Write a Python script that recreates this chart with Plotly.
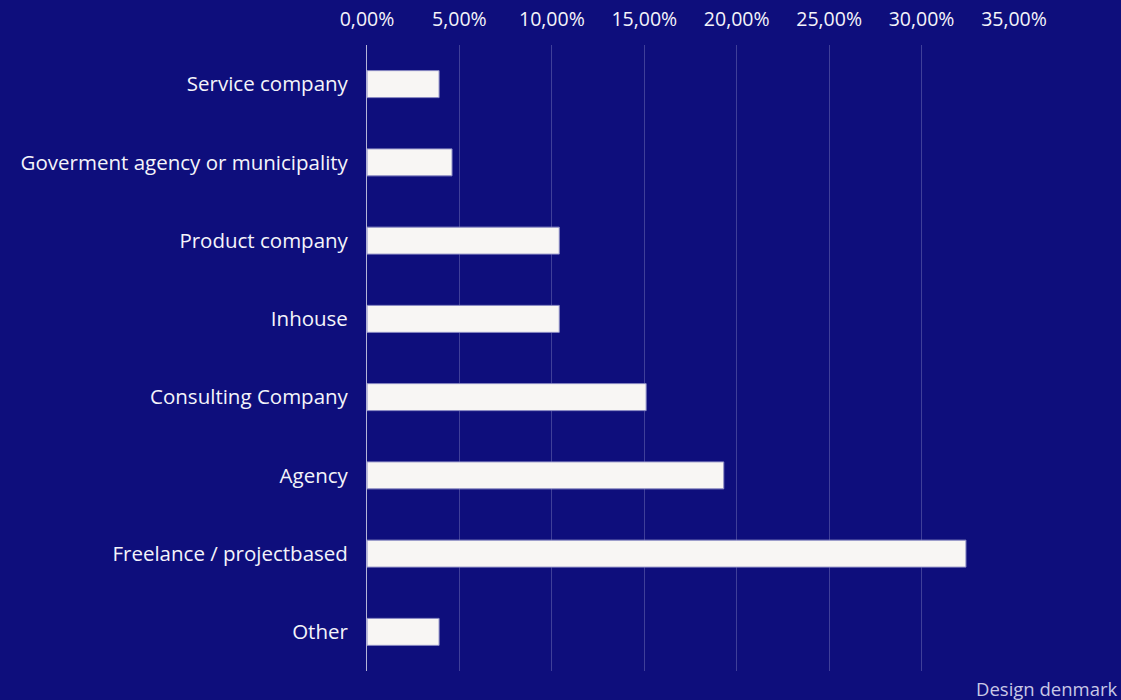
import plotly.graph_objects as go

# Survey: workplace type of respondents (share in %)
categories = [
    "Service company",
    "Goverment agency or municipality",
    "Product company",
    "Inhouse",
    "Consulting Company",
    "Agency",
    "Freelance / projectbased",
    "Other",
]
shares = [3.9, 4.6, 10.4, 10.4, 15.1, 19.3, 32.4, 3.9]

tick_values = [0, 5, 10, 15, 20, 25, 30, 35]
tick_labels = ["0,00%", "5,00%", "10,00%", "15,00%", "20,00%", "25,00%", "30,00%", "35,00%"]

BG = "#0E0E7C"
FONT = "'Open Sans', Lato, sans-serif"

fig = go.Figure(
    go.Bar(
        x=shares,
        y=categories,
        orientation="h",
        width=0.345,
        marker=dict(color="#F8F6F4", line=dict(color="#8C8CC4", width=1)),
        hoverinfo="x+y",
    )
)

fig.update_layout(
    width=1121,
    height=700,
    paper_bgcolor=BG,
    plot_bgcolor=BG,
    margin=dict(l=367, r=107, t=45, b=29),
    font=dict(family=FONT, color="#F4F4FA", size=20),
    showlegend=False,
    xaxis=dict(
        side="top",
        range=[0, 35],
        tickvals=tick_values,
        ticktext=tick_labels,
        automargin=False,
        showgrid=True,
        gridcolor="#3F3F99",
        gridwidth=1,
        zeroline=False,
        showline=False,
        ticks="",
        ticklabelstandoff=14,
        tickfont=dict(size=19.5, color="#F4F4FA"),
    ),
    yaxis=dict(
        autorange="reversed",
        automargin=False,
        showgrid=False,
        showline=True,
        linecolor="#B4B4D8",
        linewidth=1,
        ticks="",
        ticklabelstandoff=14,
        tickfont=dict(size=20.5, color="#F4F4FA"),
    ),
    annotations=[
        dict(
            text="Design denmark",
            xref="paper",
            yref="paper",
            x=1.0,
            y=0,
            xanchor="right",
            yanchor="top",
            xshift=106,
            yshift=-3,
            showarrow=False,
            font=dict(size=18.5, color="#C8C8E6", family=FONT),
        )
    ],
)

fig.write_html("out.html")
